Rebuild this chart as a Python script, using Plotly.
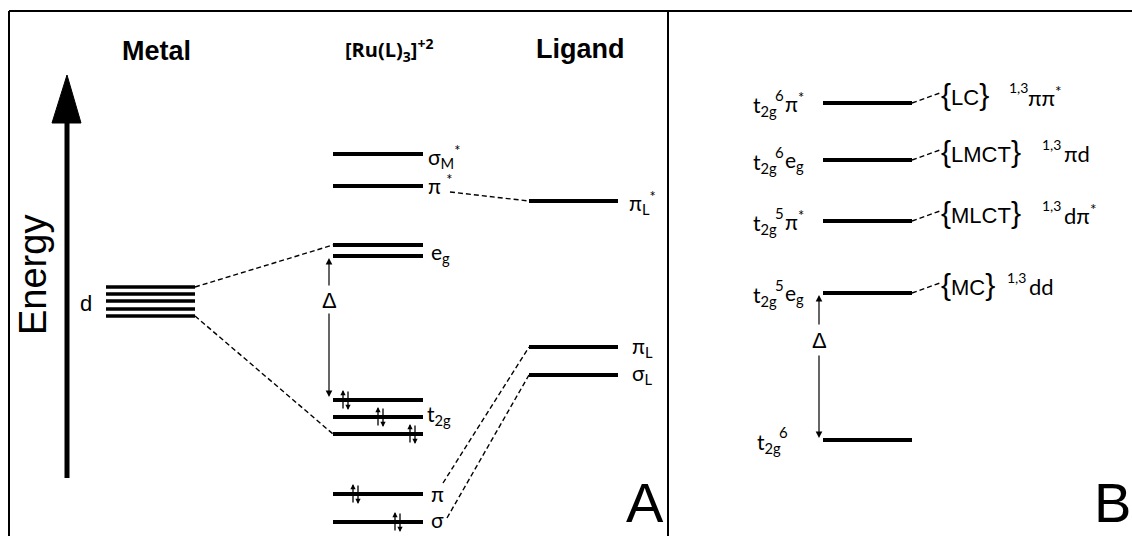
import plotly.graph_objects as go

# ---------------- data (energies in arbitrary units, higher = more energetic) ----------------
metal_d_E = [249, 242, 235, 227, 220]                      # five d levels of the free metal

complex_labels = ["σ<sub>M</sub><sup>*</sup>", "π <sup>*</sup>", "e<sub>g</sub>", None,
                  None, "t<sub>2g</sub>", None, "π", "σ"]
complex_E = [382, 350, 291, 280, 136, 119, 102, 42, 14]

ligand_labels = ["π<sub>L</sub><sup>*</sup>", "π<sub>L</sub>", "σ<sub>L</sub>"]
ligand_E = [335, 189, 161]

# filled complex levels (index into complex_E) and where the electron pair sits
electron_levels = [4, 5, 6, 7, 8]
electron_x = [345, 380, 412, 355, 397]

# excited-state diagram (panel B)
state_E = [433, 376, 315, 243, 96]
state_config = ["6", "6", "5", "5", "6"]
state_orbital = ["π<sup>*</sup>", "e<sub>g</sub>", "π<sup>*</sup>", "e<sub>g</sub>", ""]
state_class = ["LC", "LMCT", "MLCT", "MC", None]
state_term = ["ππ<sup>*</sup>", "πd", "dπ<sup>*</sup>", "dd", None]

# ---------------- layout constants ----------------
W, H = 1132, 536
ARIAL = "Liberation Sans, Arial, sans-serif"
CAL = "Lato, Open Sans, sans-serif"

COL_METAL = (106, 195)
COL_CPLX = (333, 423)
COL_LIG = (529, 618)
COL_STATE = (823, 912)

fig = go.Figure()


def levels(col, energies, width):
    xs, ys = [], []
    for e in energies:
        xs += [col[0], col[1], None]
        ys += [e, e, None]
    fig.add_trace(go.Scatter(x=xs, y=ys, mode="lines", hoverinfo="skip",
                             line=dict(color="black", width=width)))


def dashed(points_list):
    xs, ys = [], []
    for (x0, y0), (x1, y1) in points_list:
        xs += [x0, x1, None]
        ys += [y0, y1, None]
    fig.add_trace(go.Scatter(x=xs, y=ys, mode="lines", hoverinfo="skip",
                             line=dict(color="black", width=1.4, dash="5px,3px")))


levels(COL_METAL, metal_d_E, 3.3)
levels(COL_CPLX, complex_E, 4)
levels(COL_LIG, ligand_E, 4)
levels(COL_STATE, state_E, 4)

# correlation lines
dashed([
    ((COL_METAL[1], metal_d_E[0]), (COL_CPLX[0], complex_E[2])),
    ((COL_METAL[1], metal_d_E[-1]), (COL_CPLX[0], complex_E[6])),
    ((450, complex_E[1] - 6), (COL_LIG[0], ligand_E[0])),
    ((443, complex_E[7] + 11), (COL_LIG[0], ligand_E[1])),
    ((447, complex_E[8] + 4), (COL_LIG[0], ligand_E[2])),
] + [((COL_STATE[1], e), (940, e + 10)) for e in state_E[:4]])

# energy axis arrow
fig.add_trace(go.Scatter(x=[67, 67], y=[58, 416], mode="lines", hoverinfo="skip",
                         line=dict(color="black", width=5)))
fig.add_trace(go.Scatter(x=[52, 67, 81, 52], y=[413, 461, 413, 413], mode="lines",
                         fill="toself", fillcolor="black", hoverinfo="skip",
                         line=dict(color="black", width=1)))

ann = []


def text(x, y, s, size=19, family=CAL, xanchor="left", yanchor="middle", angle=0):
    ann.append(dict(x=x, y=y, xref="x", yref="y", text=s, showarrow=False,
                    font=dict(size=size, family=family, color="black"),
                    xanchor=xanchor, yanchor=yanchor, textangle=angle, borderpad=0))


def arrow(x, e_from, e_to, width=1.1, size=1.0):
    ann.append(dict(x=x, y=e_to, ax=x, ay=e_from, xref="x", yref="y", axref="x", ayref="y",
                    text="", showarrow=True, arrowhead=2, arrowsize=size, arrowwidth=width,
                    arrowcolor="black", standoff=0, startstandoff=0))


# headers
text(156, 485, "<b>Metal</b>", size=27, family=ARIAL, xanchor="center")
text(389, 486, "<b>[Ru(L)<sub>3</sub>]<sup>+2</sup></b>", size=20,
     family="Open Sans, sans-serif", xanchor="center")
text(580, 487, "<b>Ligand</b>", size=27, family=ARIAL, xanchor="center")
text(33, 261, "Energy", size=38, family=ARIAL, xanchor="center", angle=-90)
text(86, 233, "d", size=22, family=ARIAL, xanchor="center")

# complex / ligand labels
cplx_pos = {0: (427, 380), 1: (427, 352), 2: (430, 283), 5: (426, 121), 7: (430, 43), 8: (430, 17)}
for i, (x, y) in cplx_pos.items():
    text(x, y, complex_labels[i], size=21)
lig_pos = [(628, 334), (631, 189), (631, 162)]
for (x, y), s in zip(lig_pos, ligand_labels):
    text(x, y, s, size=21)

# paired electrons
for li, ex in zip(electron_levels, electron_x):
    e = complex_E[li]
    arrow(ex - 2, e - 10, e + 10, width=1.3, size=0.8)
    arrow(ex + 3, e + 10, e - 10, width=1.3, size=0.8)

# ligand-field splitting, panel A
arrow(329, 249, 278, width=1.2, size=1.1)
arrow(329, 224, 139, width=1.2, size=1.1)
text(329, 236, "Δ", size=22, family=ARIAL, xanchor="center")

# panel B labels
for e, n, orb in zip(state_E, state_config, state_orbital):
    x0 = 756 if orb == "" else 752
    text(x0, e - 3, "t<sub>2g</sub>", size=21)
    text(x0 + 27, e + 8, n, size=15, xanchor="center")
    if orb:
        text(784, e - 1 if "sub" in orb else e + 1, orb, size=21)

brace_size = 30
sup_x = [1008, 1041, 1041, 1006]
term_x = [1027, 1063, 1063, 1028]
for e, cls, term, sx, tx in zip(state_E, state_class, state_term, sup_x, term_x):
    if cls is None:
        continue
    text(940, e + 9,
         f"<span style='font-size:{brace_size}px'>{{</span>{cls}"
         f"<span style='font-size:{brace_size}px'>}}</span>",
         size=22, family=ARIAL)
    text(sx, e + 16, "1,3", size=14)
    text(tx, e + 7, term, size=22)

arrow(819, 210, 241, width=1.2, size=1.1)
arrow(819, 182, 98, width=1.2, size=1.1)
text(819, 196, "Δ", size=22, family=ARIAL, xanchor="center")

# panel letters
text(645, 1, "A", size=56, family=ARIAL, xanchor="center", yanchor="bottom")
text(1093, 1, "B", size=56, family=ARIAL, xanchor="left", yanchor="bottom")

# frame and divider
shapes = [
    dict(type="line", xref="x", yref="y", x0=9, x1=W, y0=H - 11, y1=H - 11,
         line=dict(color="black", width=2)),
    dict(type="line", xref="x", yref="y", x0=9, x1=9, y0=0, y1=H - 11,
         line=dict(color="black", width=2)),
    dict(type="line", xref="x", yref="y", x0=668, x1=668, y0=0, y1=H - 11,
         line=dict(color="black", width=2)),
]

fig.update_layout(
    width=W, height=H, autosize=False,
    margin=dict(l=0, r=0, t=0, b=0, pad=0),
    paper_bgcolor="white", plot_bgcolor="white",
    showlegend=False,
    xaxis=dict(range=[0, W], visible=False, fixedrange=True),
    yaxis=dict(range=[0, H], visible=False, fixedrange=True),
    annotations=ann, shapes=shapes,
)

fig.write_html("out.html", config={"displayModeBar": False})
